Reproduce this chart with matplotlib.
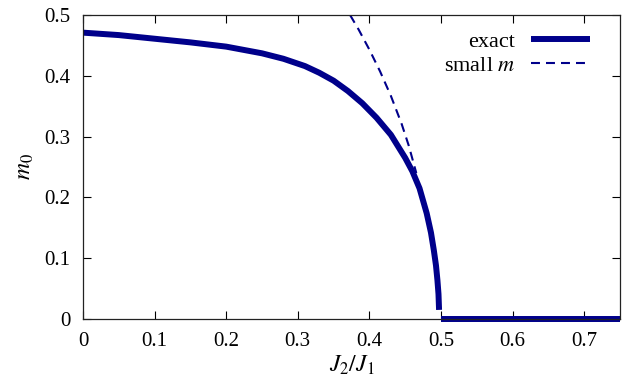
import matplotlib.pyplot as plt
import numpy as np

plt.rcParams['font.family'] = 'Liberation Serif'
plt.rcParams['mathtext.fontset'] = 'stix'

# exact solution
j_exact = [0.0, 0.05, 0.1, 0.15, 0.2, 0.25, 0.28, 0.31, 0.33, 0.35, 0.37,
           0.39, 0.41, 0.43, 0.45, 0.46, 0.47, 0.48, 0.486, 0.49, 0.493,
           0.495, 0.4965, 0.4973]
m_exact = [0.471, 0.467, 0.461, 0.455, 0.448, 0.437, 0.428, 0.416, 0.405,
           0.392, 0.375, 0.355, 0.331, 0.303, 0.265, 0.243, 0.215, 0.174,
           0.142, 0.113, 0.088, 0.064, 0.041, 0.015]
j_zero = [0.5, 0.75]
m_zero = [0.0, 0.0]

# small-m expansion
j_small = [0.373, 0.385, 0.4, 0.415, 0.43, 0.445, 0.455, 0.4655]
m_small = [0.5, 0.476, 0.443, 0.407, 0.367, 0.321, 0.285, 0.24]

col = '#00008b'

fig = plt.figure(figsize=(6.23, 3.87), dpi=100)
ax = fig.add_axes([0.1332, 0.1757, 0.862, 0.7855])

ax.plot(j_exact, m_exact, color=col, lw=4.3, label='exact', solid_capstyle='butt')
ax.plot(j_zero, m_zero, color=col, lw=4.3, clip_on=False, solid_capstyle='butt')
ax.plot(j_small, m_small, color=col, lw=1.5, ls=(0, (4.3, 2.9)), label='small $m$')

ax.set_xlim(0, 0.75)
ax.set_ylim(0, 0.5)
ax.set_xticks(np.arange(0, 0.71, 0.1))
ax.set_xticklabels(['0', '0.1', '0.2', '0.3', '0.4', '0.5', '0.6', '0.7'])
ax.set_yticks(np.arange(0, 0.51, 0.1))
ax.set_yticklabels(['0', '0.1', '0.2', '0.3', '0.4', '0.5'])
ax.tick_params(direction='in', length=6, width=0.8, labelsize=15, top=True, right=True, pad=9)
for s in ax.spines.values():
    s.set_linewidth(0.9)
    s.set_color('#222222')

ax.set_xlabel('$J_2/J_1$', fontsize=17, labelpad=2)
ax.set_ylabel('$m_0$', fontsize=17, labelpad=6)

ax.legend(loc='upper right', frameon=False, markerfirst=False, fontsize=16,
          handlelength=2.65, handletextpad=0.7, labelspacing=0.15,
          borderaxespad=0.35, bbox_to_anchor=(0.975, 1.0))

fig.savefig('out.png', dpi=100)
